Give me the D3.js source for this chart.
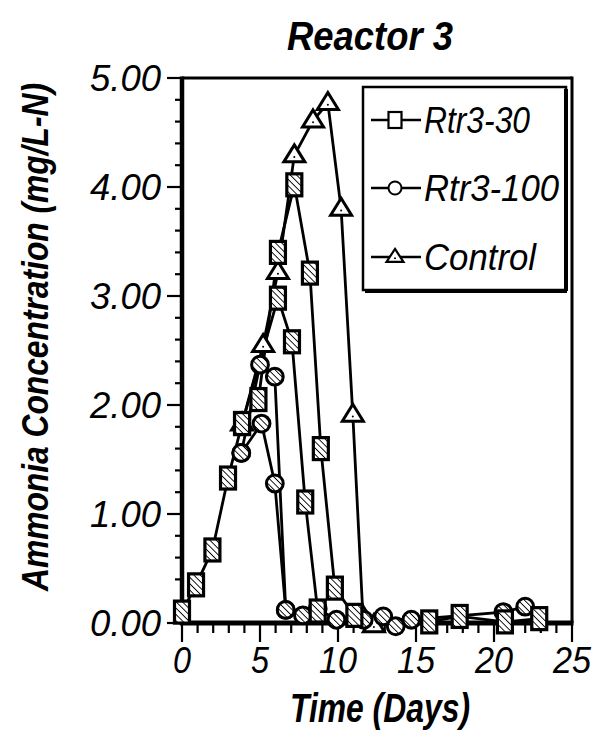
<!DOCTYPE html>
<html><head><meta charset="utf-8">
<script src="https://cdn.jsdelivr.net/npm/d3@7"></script>
<style>
html,body{margin:0;padding:0;background:#fff;}
svg text{font-family:"Liberation Sans",Arial,sans-serif;font-style:italic;fill:#000;}
</style></head>
<body><svg id="c" width="593" height="738"></svg>
<script>
// ---- data ----
const title = "Reactor 3";
const xTitle = "Time (Days)";
const yTitle = "Ammonia Concentration (mg/L-N)";
const xTicks = [0, 5, 10, 15, 20, 25];
const yTicks = [0, 1, 2, 3, 4, 5];
const yTickLabels = ["0.00", "1.00", "2.00", "3.00", "4.00", "5.00"];
const seriesNames = ["Rtr3-30", "Rtr3-100", "Control"];

// Rtr3-30 (squares), two traced lines
const rtr30aDays = [0, 0.9, 1.95, 2.95, 3.85, 4.9, 6.15, 7.2, 8.2, 8.9, 9.8, 11.05, 15.85, 17.8, 20.7, 22.9];
const rtr30aVals = [0.10, 0.35, 0.67, 1.33, 1.83, 2.05, 3.40, 4.02, 3.21, 1.60, 0.32, 0.07, 0.01, 0.06, 0.01, 0.04];
const rtr30bDays = [3.85, 6.15, 7.05, 7.9, 8.7];
const rtr30bVals = [1.83, 2.98, 2.58, 1.11, 0.11];
// Rtr3-100 (circles), two traced lines
const rtr100aDays = [3.8, 5.0, 5.95, 6.65, 7.75, 8.7, 9.9, 11.65, 12.9, 13.7, 14.7, 20.6, 22.0];
const rtr100aVals = [1.56, 2.37, 2.26, 0.12, 0.07, 0.13, 0.03, 0.03, 0.06, -0.03, 0.03, 0.10, 0.15];
const rtr100bDays = [3.8, 5.1, 5.95, 6.65];
const rtr100bVals = [1.56, 1.83, 1.28, 0.12];
// Control (triangles)
const controlDays = [3.85, 5.2, 6.15, 7.2, 8.4, 9.35, 10.2, 10.95, 11.6, 12.3];
const controlVals = [1.83, 2.55, 3.22, 4.29, 4.61, 4.77, 3.80, 1.91, 0.06, -0.02];

// ---- drawing ----
const svg = d3.select("#c");
const x = d3.scaleLinear().domain([0, 25]).range([182, 572]);
const y = d3.scaleLinear().domain([0, 5]).range([623, 78]);
const zip = (ds, vs) => ds.map((d, i) => ({d: d, v: vs[i]}));

const defs = svg.append("defs");
const pat = defs.append("pattern").attr("id", "hatch").attr("patternUnits", "userSpaceOnUse")
  .attr("width", 4.5).attr("height", 4.5).attr("patternTransform", "rotate(-45)");
pat.append("rect").attr("width", 4.5).attr("height", 4.5).attr("fill", "#fff");
pat.append("line").attr("x1", 0).attr("y1", 0).attr("x2", 0).attr("y2", 4.5)
  .attr("stroke", "#000").attr("stroke-width", 1.8);

// title
svg.append("text").attr("x", 370).attr("y", 50).attr("text-anchor", "middle")
  .attr("font-size", 41).attr("font-weight", "bold")
  .attr("textLength", 166).attr("lengthAdjust", "spacingAndGlyphs").text(title);

// axis titles
svg.append("text").attr("x", 380).attr("y", 722).attr("text-anchor", "middle")
  .attr("font-size", 41).attr("font-weight", "bold")
  .attr("textLength", 180).attr("lengthAdjust", "spacingAndGlyphs").text(xTitle);
svg.append("text").attr("transform", "translate(48,337) rotate(-90)").attr("text-anchor", "middle")
  .attr("font-size", 37).attr("font-weight", "bold")
  .attr("textLength", 508).attr("lengthAdjust", "spacingAndGlyphs").text(yTitle);

// frame
svg.append("line").attr("x1", x(0)).attr("x2", x(25)).attr("y1", y(5)).attr("y2", y(5))
  .attr("stroke", "#000").attr("stroke-width", 3);
svg.append("line").attr("x1", x(25)).attr("x2", x(25)).attr("y1", y(5) - 1.5).attr("y2", y(0))
  .attr("stroke", "#000").attr("stroke-width", 3);

// y axis
const yAxis = svg.append("g");
d3.range(0, 5.001, 0.2).forEach(v => {
  const major = Math.abs(v - Math.round(v)) < 1e-6;
  yAxis.append("line").attr("x1", x(0) - (major ? 15 : 7)).attr("x2", x(0))
    .attr("y1", y(v)).attr("y2", y(v)).attr("stroke", "#000").attr("stroke-width", 2.2);
});
yTicks.forEach((v, i) => {
  yAxis.append("text").attr("x", 161).attr("y", y(v) + 13).attr("text-anchor", "end")
    .attr("font-size", 37).attr("textLength", 71).attr("lengthAdjust", "spacingAndGlyphs")
    .text(yTickLabels[i]);
});
yAxis.append("line").attr("x1", x(0)).attr("x2", x(0)).attr("y1", y(5) - 1.5).attr("y2", y(0) + 2)
  .attr("stroke", "#000").attr("stroke-width", 4.5);

// x axis
const xAxis = svg.append("g");
d3.range(0, 26, 1).forEach(v => {
  const major = v % 5 === 0;
  xAxis.append("line").attr("x1", x(v)).attr("x2", x(v))
    .attr("y1", y(0)).attr("y2", y(0) + (major ? 19 : 10)).attr("stroke", "#000").attr("stroke-width", 2.2);
});
xTicks.forEach(v => {
  xAxis.append("text").attr("x", x(v)).attr("y", 673).attr("text-anchor", "middle")
    .attr("font-size", 36).attr("textLength", v < 10 ? 18 : 38).attr("lengthAdjust", "spacingAndGlyphs")
    .text(String(v));
});
xAxis.append("line").attr("x1", x(0) - 2).attr("x2", x(25) + 1.5).attr("y1", y(0)).attr("y2", y(0))
  .attr("stroke", "#000").attr("stroke-width", 5);

// lines
const line = d3.line().x(p => x(p.d)).y(p => y(p.v));
const lines = [zip(controlDays, controlVals), zip(rtr100aDays, rtr100aVals), zip(rtr100bDays, rtr100bVals),
               zip(rtr30aDays, rtr30aVals), zip(rtr30bDays, rtr30bVals)];
const gl = svg.append("g");
lines.forEach(pts => gl.append("path").attr("d", line(pts)).attr("fill", "none")
  .attr("stroke", "#000").attr("stroke-width", 2.8));

// marker helpers
function tri(g, cx, cy, w, h, sw) {
  g.append("path").attr("d", `M${cx},${cy - h * 0.62}L${cx + w / 2},${cy + h * 0.38}L${cx - w / 2},${cy + h * 0.38}Z`)
    .attr("fill", "#fff").attr("stroke", "#000").attr("stroke-width", sw).attr("stroke-linejoin", "miter");
  g.append("circle").attr("cx", cx).attr("cy", cy + h * 0.1).attr("r", 1).attr("fill", "#000");
}
function sq(g, cx, cy, w, h, sw, fill) {
  g.append("rect").attr("x", cx - w / 2).attr("y", cy - h / 2).attr("width", w).attr("height", h)
    .attr("fill", fill).attr("stroke", "#000").attr("stroke-width", sw);
}
function circ(g, cx, cy, r, sw, fill) {
  g.append("circle").attr("cx", cx).attr("cy", cy).attr("r", r)
    .attr("fill", fill).attr("stroke", "#000").attr("stroke-width", sw);
}

const gm = svg.append("g");
zip(controlDays, controlVals).forEach(p => tri(gm, x(p.d), y(p.v), 21, 17, 3));
zip(rtr100aDays, rtr100aVals).concat(zip(rtr100bDays, rtr100bVals))
  .forEach(p => circ(gm, x(p.d), y(p.v), 8.4, 3, "url(#hatch)"));
zip(rtr30aDays, rtr30aVals).concat(zip(rtr30bDays, rtr30bVals))
  .forEach(p => sq(gm, x(p.d), y(p.v), 15, 22, 3.2, "url(#hatch)"));

// legend
const lg = svg.append("g");
lg.append("rect").attr("x", 363).attr("y", 87).attr("width", 203).attr("height", 203)
  .attr("fill", "#fff").attr("stroke", "#000").attr("stroke-width", 2.5);
lg.append("line").attr("x1", 566).attr("x2", 566).attr("y1", 89).attr("y2", 291)
  .attr("stroke", "#000").attr("stroke-width", 4);
lg.append("line").attr("x1", 365).attr("x2", 567).attr("y1", 291).attr("y2", 291)
  .attr("stroke", "#000").attr("stroke-width", 4);
const legY = [120, 188, 257];
const legLen = [106, 135, 112];
seriesNames.forEach((name, i) => {
  const yy = legY[i];
  lg.append("line").attr("x1", 371).attr("x2", 421).attr("y1", yy).attr("y2", yy)
    .attr("stroke", "#000").attr("stroke-width", 2.4);
  if (i === 0) sq(lg, 395, yy, 13, 16, 2.2, "#fff");
  if (i === 1) circ(lg, 395, yy, 6.5, 2, "#fff");
  if (i === 2) tri(lg, 395, yy, 17, 13, 2.2);
  lg.append("text").attr("x", 424).attr("y", yy + 13).attr("font-size", 37)
    .attr("textLength", legLen[i]).attr("lengthAdjust", "spacingAndGlyphs").text(name);
});
</script></body></html>
